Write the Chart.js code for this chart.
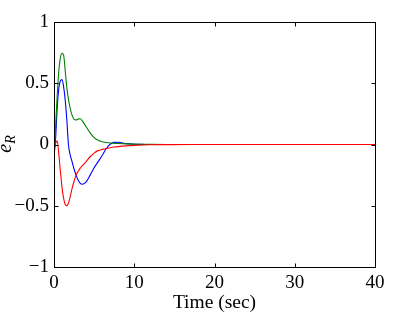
<!DOCTYPE html>
<html>
<head>
<meta charset="utf-8">
<script src="https://cdn.jsdelivr.net/npm/chart.js@4/dist/chart.umd.min.js"></script>
<style>
  html, body { margin: 0; padding: 0; background: #fff; }
  canvas { display: block; }
</style>
</head>
<body>
<canvas id="chart" width="415" height="312"></canvas>
<script>
/* ---------- Data ---------- */
const times = [0, 0.2, 0.4, 0.6, 0.8, 1.0, 1.2, 1.4, 1.6, 1.8, 2.0, 2.25, 2.5, 2.75, 3.0, 3.25, 3.5,
  4.0, 4.5, 5.0, 5.5, 6.0, 6.5, 7.0, 7.5, 8.0, 9.0, 10, 11, 12, 14, 17, 20, 40];

const blueErr = [-0.1, 0.05, 0.3, 0.46, 0.52, 0.53, 0.47, 0.36, 0.2, 0.0, -0.08, -0.14, -0.2, -0.25, -0.29, -0.315, -0.325,
  -0.305, -0.25, -0.19, -0.14, -0.09, -0.035, 0.002, 0.017, 0.018, 0.007, 0.002, 0.001, 0, 0, 0, 0, 0];

const greenErr = [-0.08, 0.15, 0.4, 0.6, 0.71, 0.745, 0.73, 0.6, 0.46, 0.37, 0.3, 0.24, 0.205, 0.2, 0.207, 0.21, 0.195,
  0.145, 0.095, 0.056, 0.034, 0.022, 0.016, 0.012, 0.01, 0.008, 0.005, 0.003, 0.002, 0.001, 0, 0, 0, 0];

const redErr = [-0.05, 0.01, 0.03, -0.08, -0.22, -0.35, -0.44, -0.49, -0.5, -0.48, -0.43, -0.36, -0.3, -0.25, -0.22, -0.195, -0.175,
  -0.14, -0.1, -0.07, -0.05, -0.04, -0.032, -0.026, -0.021, -0.017, -0.011, -0.007, -0.004, -0.002, -0.001, 0, 0, 0];

const xTicks = [0, 10, 20, 30, 40];
const yTicks = [-1, -0.5, 0, 0.5, 1];

const FONT = '"Liberation Serif", "DejaVu Serif", serif';

function toPoints(vals) {
  return times.map((t, i) => ({ x: t, y: vals[i] }));
}

function series(vals, color) {
  return {
    data: toPoints(vals),
    borderColor: color,
    borderWidth: 1.1,
    pointRadius: 0,
    cubicInterpolationMode: 'monotone',
    fill: false,
  };
}

/* ---------- Box, inward ticks and y label ---------- */
const framePlugin = {
  id: 'frame',
  afterDatasetsDraw(chart) {
    const { ctx, chartArea: a, scales } = chart;
    const L = a.left + 0.5, R = a.right + 0.5, T = a.top + 0.5, B = a.bottom + 0.5;
    ctx.save();
    ctx.strokeStyle = '#000';
    ctx.lineWidth = 1;
    ctx.strokeRect(L, T, R - L, B - T);
    ctx.beginPath();
    xTicks.forEach((v) => {
      const px = Math.round(scales.x.getPixelForValue(v)) + 0.5;
      ctx.moveTo(px, B); ctx.lineTo(px, B - 4);
      ctx.moveTo(px, T); ctx.lineTo(px, T + 4);
    });
    yTicks.forEach((v) => {
      const py = Math.round(scales.y.getPixelForValue(v)) + 0.5;
      ctx.moveTo(L, py); ctx.lineTo(L + 4, py);
      ctx.moveTo(R, py); ctx.lineTo(R - 4, py);
    });
    ctx.stroke();

    // y axis label: e with subscript R
    ctx.translate(11, 144);
    ctx.rotate(-Math.PI / 2);
    ctx.fillStyle = '#000';
    ctx.textBaseline = 'alphabetic';
    ctx.font = `italic 20px ${FONT}`;
    const ew = ctx.measureText('e').width;
    ctx.font = `italic 14px ${FONT}`;
    const rw = ctx.measureText('R').width;
    const x0 = -(ew + rw) / 2;
    ctx.font = `italic 20px ${FONT}`;
    ctx.fillText('e', x0, 0);
    ctx.font = `italic 14px ${FONT}`;
    ctx.fillText('R', x0 + ew, 4);
    ctx.restore();
  },
};

new Chart(document.getElementById('chart'), {
  type: 'line',
  data: {
    datasets: [
      series(redErr, '#ff0000'),
      series(greenErr, '#008000'),
      series(blueErr, '#0000ff'),
    ],
  },
  options: {
    responsive: false,
    animation: false,
    events: [],
    layout: { padding: { top: 22, right: 40, left: 0, bottom: 0 } },
    plugins: { legend: { display: false }, tooltip: { enabled: false } },
    scales: {
      x: {
        type: 'linear',
        min: 0,
        max: 40,
        afterFit: (s) => { s.height = 45; },
        afterBuildTicks: (s) => { s.ticks = xTicks.map((v) => ({ value: v })); },
        grid: { display: false, drawTicks: false },
        border: { display: false },
        ticks: { color: '#000', font: { family: FONT, size: 19 }, padding: 5, maxRotation: 0 },
        title: { display: true, text: 'Time (sec)', color: '#000', font: { family: FONT, size: 19.5 }, padding: { top: 0, bottom: -3 } },
      },
      y: {
        min: -1,
        max: 1,
        afterFit: (s) => { s.width = 54; },
        afterBuildTicks: (s) => { s.ticks = yTicks.map((v) => ({ value: v })); },
        grid: { display: false, drawTicks: false },
        border: { display: false },
        ticks: {
          color: '#000',
          font: { family: FONT, size: 19 },
          padding: 5,
          callback: (v) => String(v).replace('-', '\u2212'),
        },
      },
    },
  },
  plugins: [framePlugin],
});
</script>
</body>
</html>
